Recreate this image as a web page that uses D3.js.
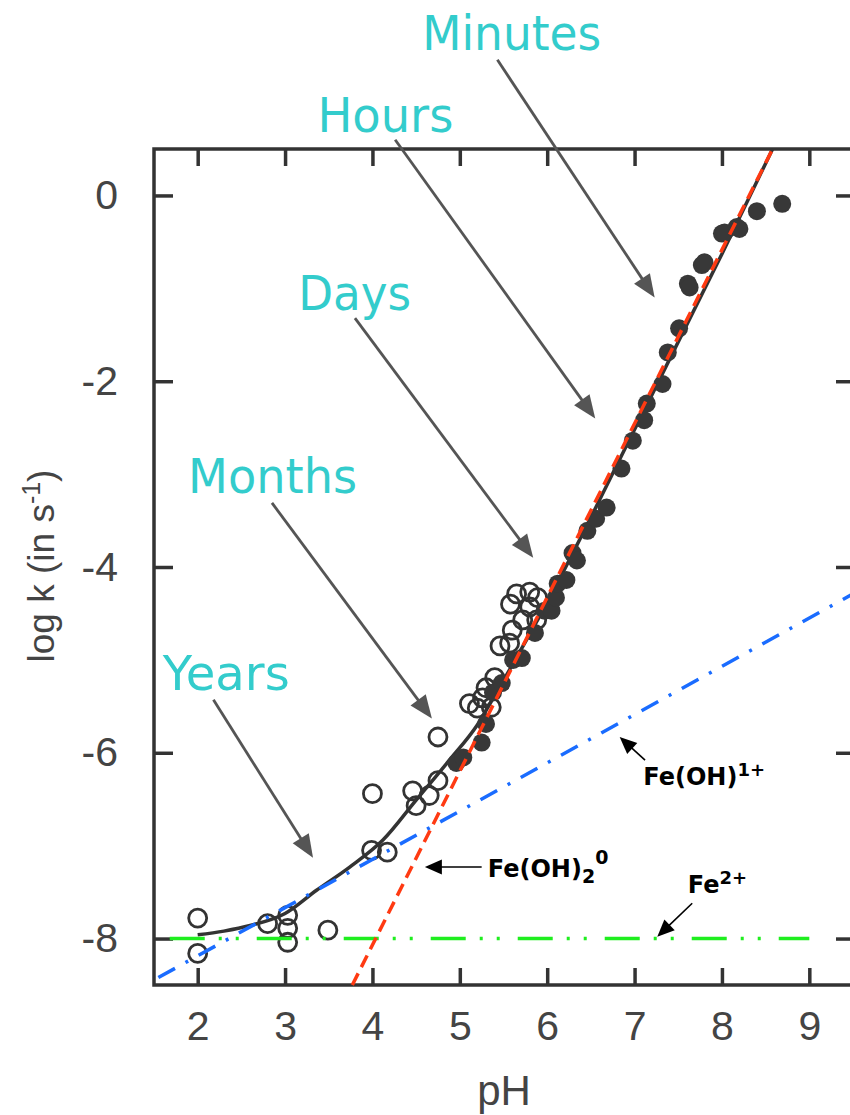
<!DOCTYPE html>
<html>
<head>
<meta charset="utf-8">
<script src="https://cdn.jsdelivr.net/npm/d3@7"></script>
<style>
  body { margin: 0; background: #fff; }
</style>
</head>
<body>
<div id="chart"></div>
<script>
// measured rate constants (open = acid range, filled = neutral range)
var openPH   = [2.0, 2.0, 2.80, 3.03, 3.03, 3.03, 3.49, 4.0, 3.99, 4.17, 4.46, 4.5, 4.65, 4.75, 4.75,
                5.11, 5.2, 5.26, 5.3, 5.36, 5.4, 5.46, 5.57, 5.6, 5.58, 5.65, 5.72, 5.8, 5.8, 5.88, 5.89];
var openLogK = [-7.78, -8.16, -7.84, -7.75, -7.89, -8.04, -7.91, -6.44, -7.05, -7.07, -6.41, -6.57, -6.46, -6.3, -5.83,
                -5.47, -5.52, -5.41, -5.30, -5.51, -5.19, -4.85, -4.82, -4.68, -4.4, -4.29, -4.57, -4.27, -4.43, -4.57, -4.33];

var filledPH   = [4.96, 5.04, 5.25, 5.3, 5.38, 5.48, 5.61, 5.71, 5.86, 5.97, 6.05, 6.1, 6.12, 6.22, 6.29, 6.34,
                  6.46, 6.56, 6.68, 6.85, 6.98, 7.11, 7.14, 7.32, 7.38, 7.51, 7.61, 7.63, 7.77, 7.8, 8.0, 8.03,
                  8.17, 8.2, 8.4, 8.69];
var filledLogK = [-6.11, -6.05, -5.89, -5.69, -5.35, -5.25, -5.0, -4.98, -4.71, -4.47, -4.47, -4.33, -4.18, -4.14, -3.85, -3.93,
                  -3.61, -3.48, -3.36, -2.94, -2.64, -2.42, -2.24, -2.03, -1.69, -1.43, -0.95, -0.99, -0.75, -0.72, -0.41, -0.40,
                  -0.34, -0.36, -0.17, -0.09];

// overall fitted curve
var curvePH   = [2.0, 2.3, 2.6, 3.0, 3.36, 3.74, 4.12, 4.5, 4.88, 5.2, 5.45, 6.0, 7.0, 8.0, 8.58];
var curveLogK = [-7.96, -7.92, -7.86, -7.73, -7.48, -7.23, -6.94, -6.51, -6.08, -5.70, -5.30, -4.38, -2.52, -0.63, 0.5];

// species contributions
var fe2PH    = [1.68, 9.0];
var fe2LogK  = [-8, -8];
var feOHPH   = [1.55, 9.5];
var feOHLogK = [-8.42, -4.29];
var feOH2PH  = [3.77, 8.58];
var feOH2LogK= [-8.5, 0.5];

var xTicks = [2, 3, 4, 5, 6, 7, 8, 9];
var yTicks = [0, -2, -4, -6, -8];

// time scale annotations (label anchor and arrow, in pH / log k units)
var timeLabels   = ["Minutes", "Hours", "Days", "Months", "Years"];
var timeLabelPH  = [4.57, 3.37, 3.15, 1.89, 1.60];
var timeLabelLogK= [1.57, 0.68, -1.23, -3.20, -5.32];
var timeLabelLen = [179, 136, 113, 169, 127];
var timeArrowFromPH  = [5.43, 4.26, 3.80, 2.85, 2.18];
var timeArrowFromLogK= [1.46, 0.60, -1.32, -3.31, -5.43];
var timeArrowToPH    = [7.23, 6.55, 5.84, 4.68, 3.32];
var timeArrowToLogK  = [-1.10, -2.40, -3.90, -5.63, -7.13];

// species labels
var speciesBase = ["Fe(OH)", "Fe(OH)", "Fe"];
var speciesSub  = ["", "2", ""];
var speciesSup  = ["1+", "0", "2+"];
var speciesPH   = [7.10, 5.32, 7.61];
var speciesLogK = [-6.35, -7.34, -7.51];
var speciesArrowFromPH  = [7.12, 5.25, 7.66];
var speciesArrowFromLogK= [-6.08, -7.23, -7.62];
var speciesArrowToPH    = [6.83, 4.60, 7.26];
var speciesArrowToLogK  = [-5.83, -7.23, -7.98];

var width = 850, height = 1115;
var svg = d3.select("#chart").append("svg")
    .attr("width", width)
    .attr("height", height)
    .style("font-family", "'Liberation Sans', Arial, sans-serif");

var x = d3.scaleLinear().domain([1.5, 9.5]).range([154, 853]);
var y = d3.scaleLinear().domain([-8.5, 0.5]).range([985, 149]);

var axisColor = "#333";

// frame
svg.append("rect")
    .attr("x", x(1.5)).attr("y", y(0.5))
    .attr("width", x(9.5) - x(1.5)).attr("height", y(-8.5) - y(0.5))
    .attr("fill", "none").attr("stroke", axisColor).attr("stroke-width", 3.5);

function styleAxis(g) {
    g.select(".domain").remove();
    g.selectAll(".tick line").attr("stroke", axisColor).attr("stroke-width", 3.5);
    g.selectAll(".tick text").attr("fill", "#444").style("font-size", "41px")
        .style("font-family", "'Liberation Sans', Arial, sans-serif");
}

svg.append("g").attr("transform", "translate(0," + y(-8.5) + ")")
    .call(d3.axisBottom(x).tickValues(xTicks).tickSize(-17).tickPadding(26).tickFormat(d3.format("d")))
    .call(styleAxis);
svg.append("g").attr("transform", "translate(0," + y(0.5) + ")")
    .call(d3.axisTop(x).tickValues(xTicks).tickSize(-17).tickFormat(""))
    .call(styleAxis);
svg.append("g").attr("transform", "translate(" + x(1.5) + ",0)")
    .call(d3.axisLeft(y).tickValues(yTicks).tickSize(-19).tickPadding(36).tickFormat(function (d) { return d === 0 ? "0" : "-" + Math.abs(d); }))
    .call(styleAxis);
svg.append("g").attr("transform", "translate(" + x(9.5) + ",0)")
    .call(d3.axisRight(y).tickValues(yTicks).tickSize(-17).tickFormat(""))
    .call(styleAxis);

// axis titles
svg.append("text")
    .attr("x", 504).attr("y", 1105)
    .attr("text-anchor", "middle")
    .attr("fill", "#444").style("font-size", "42px")
    .text("pH");

var yTitle = svg.append("text")
    .attr("transform", "translate(54,566) rotate(-90)")
    .attr("text-anchor", "middle")
    .attr("fill", "#444").style("font-size", "37px");
yTitle.append("tspan").text("log k (in s");
yTitle.append("tspan").attr("dy", -14).style("font-size", "25px").text("-1");
yTitle.append("tspan").attr("dy", 14).text(")");

var line = d3.line()
    .x(function (d) { return x(d[0]); })
    .y(function (d) { return y(d[1]); });

// fitted curve
svg.append("path")
    .datum(d3.zip(curvePH, curveLogK))
    .attr("d", line.curve(d3.curveMonotoneX))
    .attr("fill", "none").attr("stroke", "#333").attr("stroke-width", 3.5);
line.curve(d3.curveLinear);

// data points
svg.append("g").selectAll("circle")
    .data(d3.zip(openPH, openLogK))
    .enter().append("circle")
    .attr("cx", function (d) { return x(d[0]); })
    .attr("cy", function (d) { return y(d[1]); })
    .attr("r", 9)
    .attr("fill", "none").attr("stroke", "#333").attr("stroke-width", 2.8);

svg.append("g").selectAll("circle")
    .data(d3.zip(filledPH, filledLogK))
    .enter().append("circle")
    .attr("cx", function (d) { return x(d[0]); })
    .attr("cy", function (d) { return y(d[1]); })
    .attr("r", 9)
    .attr("fill", "#383838");

// species lines
svg.append("path")
    .datum(d3.zip(fe2PH, fe2LogK))
    .attr("d", line)
    .attr("fill", "none").attr("stroke", "#1fee1f").attr("stroke-width", 3.5)
    .attr("stroke-dasharray", "35,14,3,14,3,18");

svg.append("path")
    .datum(d3.zip(feOHPH, feOHLogK))
    .attr("d", line)
    .attr("fill", "none").attr("stroke", "#1a6cff").attr("stroke-width", 3.5)
    .attr("stroke-dasharray", "19,12,3,12");

svg.append("path")
    .datum(d3.zip(feOH2PH, feOH2LogK))
    .attr("d", line)
    .attr("fill", "none").attr("stroke", "#ff3a12").attr("stroke-width", 3.5)
    .attr("stroke-dasharray", "13,7");

// arrows
function arrow(x1, y1, x2, y2, color, w, headLen, headW) {
    var dx = x2 - x1, dy = y2 - y1, len = Math.sqrt(dx * dx + dy * dy);
    var ux = dx / len, uy = dy / len;
    var bx = x2 - ux * headLen, by = y2 - uy * headLen;
    svg.append("line")
        .attr("x1", x1).attr("y1", y1).attr("x2", bx + ux * 2).attr("y2", by + uy * 2)
        .attr("stroke", color).attr("stroke-width", w);
    svg.append("polygon")
        .attr("points", [[x2, y2], [bx - uy * headW / 2, by + ux * headW / 2], [bx + uy * headW / 2, by - ux * headW / 2]].join(" "))
        .attr("fill", color);
}

timeLabels.forEach(function (t, i) {
    arrow(x(timeArrowFromPH[i]), y(timeArrowFromLogK[i]), x(timeArrowToPH[i]), y(timeArrowToLogK[i]), "#555", 2.8, 23, 19);
    svg.append("text")
        .attr("x", x(timeLabelPH[i])).attr("y", y(timeLabelLogK[i]))
        .attr("textLength", timeLabelLen[i]).attr("lengthAdjust", "spacingAndGlyphs")
        .attr("fill", "#33cccc")
        .style("font-family", "'DejaVu Sans', Verdana, sans-serif")
        .style("font-size", "48px")
        .text(t);
});

speciesBase.forEach(function (t, i) {
    arrow(x(speciesArrowFromPH[i]), y(speciesArrowFromLogK[i]), x(speciesArrowToPH[i]), y(speciesArrowToLogK[i]), "#000", 1.6, 17, 15);
    var lab = svg.append("text")
        .attr("x", x(speciesPH[i])).attr("y", y(speciesLogK[i]))
        .attr("fill", "#000")
        .style("font-family", "'DejaVu Sans', Verdana, sans-serif")
        .style("font-weight", "bold")
        .style("font-size", "24px");
    lab.append("tspan").text(t);
    if (speciesSub[i]) {
        lab.append("tspan").attr("dy", 6).style("font-size", "19px").text(speciesSub[i]);
        lab.append("tspan").attr("dy", -19).style("font-size", "19px").text(speciesSup[i]);
    } else {
        lab.append("tspan").attr("dy", -9).style("font-size", "18px").text(speciesSup[i]);
    }
});
</script>
</body>
</html>
